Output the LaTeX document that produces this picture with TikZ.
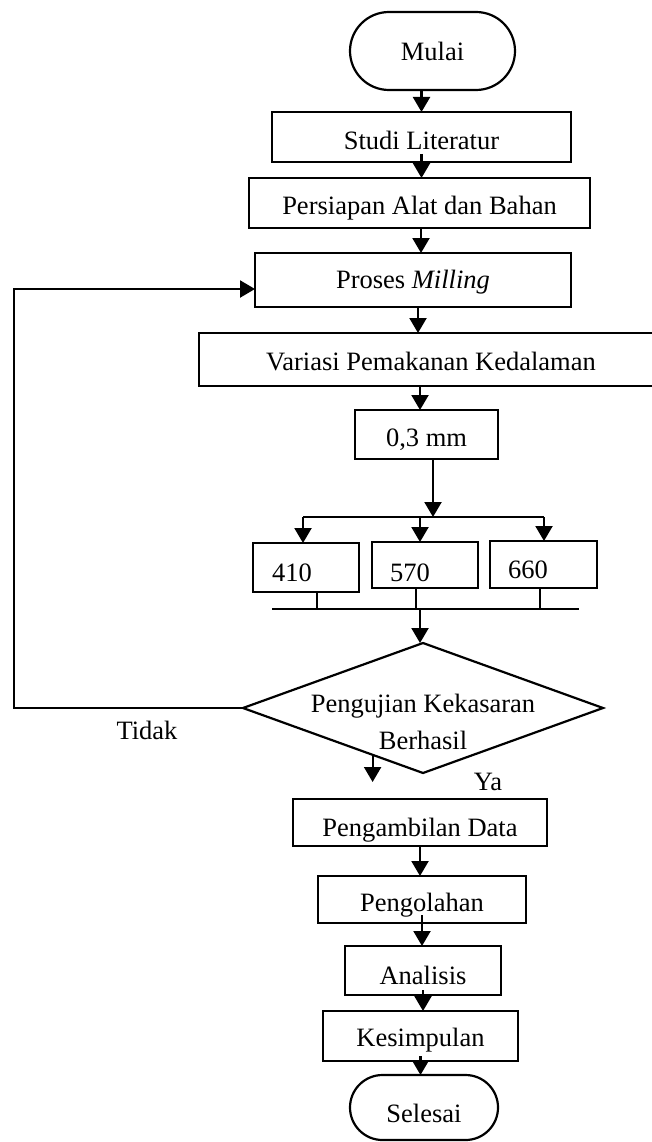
\documentclass[tikz,border=0pt]{standalone}
\usepackage{fontspec}
\setmainfont{Liberation Serif}
\usetikzlibrary{arrows.meta,shapes.geometric,shapes.misc,calc}
\newcommand\mv[3]{\raisebox{-#2pt}[\height][\depth]{\rlap{\hspace*{#1pt}#3}\phantom{#3}}}
\begin{document}
\begin{tikzpicture}[x=1pt,y=-1pt,
  every node/.style={font=\fontsize{26.5}{31}\selectfont, inner sep=0pt, outer sep=0pt},
  box/.style={draw, rectangle, line width=2.2pt},
  term/.style={draw, rounded rectangle, line width=2.2pt},
  dec/.style={draw, diamond, line width=2.2pt},
  line/.style={line width=2.2pt},
  arr/.style={line width=2.2pt, -{Triangle[width=17pt,length=15pt]}},
]
\useasboundingbox (0,0) rectangle (652,1142);

% nodes
\node[term, minimum width=165pt, minimum height=78pt] (mulai) at (432.5,51) {Mulai};
\node[box, minimum width=299pt, minimum height=50pt] (studi) at (421.5,137) {\mv{0}{3}{Studi Literatur}};
\node[box, minimum width=341pt, minimum height=50pt] (siap) at (419.5,203) {\mv{0}{5}{Persiapan Alat dan Bahan}};
\node[box, minimum width=316pt, minimum height=54pt] (mill) at (413,280) {\mv{0}{2}{Proses \textit{Milling}}};
\node[box, minimum width=464pt, minimum height=53pt] (var) at (431,359.5) {\mv{0}{2}{Variasi Pemakanan Kedalaman}};
\node[box, minimum width=143pt, minimum height=49pt] (mm) at (426.5,434.5) {\mv{0}{5}{0,3 mm}};
\node[box, minimum width=106pt, minimum height=49pt] (b410) at (306,567.5) {\mv{-14}{5.5}{410}};
\node[box, minimum width=106pt, minimum height=46pt] (b570) at (425,565) {\mv{-15}{8}{570}};
\node[box, minimum width=107pt, minimum height=47pt] (b660) at (543.5,564.5) {\mv{-15.5}{5.5}{660}};
\node[dec, minimum width=360pt, minimum height=130pt] (dec) at (423,708)
  {\raisebox{-23pt}[0pt][0pt]{\makebox[0pt]{\begin{tabular}{@{}c@{}}Pengujian Kekasaran\\[6pt]Berhasil\end{tabular}}}};
\node (tidak) at (147,730) {Tidak};
\node (ya) at (488,782) {Ya};
\node[box, minimum width=254pt, minimum height=47pt] (peng) at (420,822.5) {\mv{0}{8}{Pengambilan Data}};
\node[box, minimum width=208pt, minimum height=47pt] (olah) at (422,899.5) {\mv{0}{5.5}{Pengolahan}};
\node[box, minimum width=156pt, minimum height=49pt] (anal) at (423,970.5) {\mv{0}{4.5}{Analisis}};
\node[box, minimum width=195pt, minimum height=50pt] (kes) at (420.5,1036) {\mv{0}{4}{Kesimpulan}};
\node[term, minimum width=148pt, minimum height=65pt] (sel) at (424,1107.5) {\mv{0}{5.5}{Selesai}};

% helper coordinates
\coordinate (a4) at ([xshift=5pt]mill.south);
\coordinate (a5) at ([xshift=-11pt]var.south);
\coordinate (a6) at ([xshift=6.5pt]mm.south);
\coordinate (tl) at (303,517);
\coordinate (tm) at (420,517);
\coordinate (tr) at (544,517);
\coordinate (bl) at (272,609);
\coordinate (bm) at (420,609);
\coordinate (br) at (579,609);
\coordinate (s1) at (317,609);
\coordinate (s2) at (416,609);
\coordinate (s3) at (540,609);
\coordinate (c1) at (14,708);
\coordinate (c2) at (14,289);
\coordinate (ya1) at ($(dec.west)!0.72!(dec.south)$);
\coordinate (ya2) at (372,782);
\coordinate (a2) at ([yshift=8pt]studi.south);
\coordinate (a3) at ([xshift=1.5pt]siap.south);
\coordinate (a13) at ([yshift=8pt]olah.south);
\coordinate (a14) at ([yshift=5pt]anal.south);
\coordinate (a15) at ([yshift=5pt]kes.south);

% connectors
\draw[arr] (studi.north |- mulai.south) -- (studi.north);
\draw[arr] (a2) -- (a2 |- siap.north);
\draw[arr] (a3) -- (a3 |- mill.north);
\draw[arr] (a4) -- (a4 |- var.north);
\draw[arr] (a5) -- (a5 |- mm.north);
\draw[arr] (a6) -- (a6 |- tl);
\draw[line] (tl) -- (tr);
\draw[arr] (tl) -- (tl |- b410.north);
\draw[arr] (tm) -- (tm |- b570.north);
\draw[arr] (tr) -- (tr |- b660.north);
\draw[line] (s1 |- b410.south) -- (s1);
\draw[line] (s2 |- b570.south) -- (s2);
\draw[line] (s3 |- b660.south) -- (s3);
\draw[line] (bl) -- (br);
\draw[arr] (bm) -- (bm |- dec.north);
\draw[arr] (dec.west) -- (c1) -- (c2) -- (c2 -| mill.west);
\draw[arr] (ya1) -- (ya1 |- ya2);
\draw[arr] (peng.south) -- (peng.south |- olah.north);
\draw[arr] (a13) -- (a13 |- anal.north);
\draw[arr] (a14) -- (a14 |- kes.north);
\draw[arr] (a15) -- (a15 |- sel.north);
\end{tikzpicture}
\end{document}
